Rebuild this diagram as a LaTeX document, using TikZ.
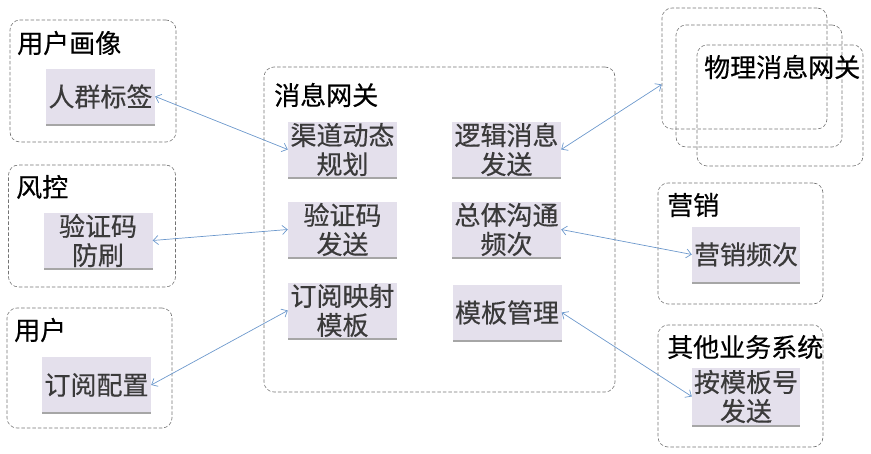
\documentclass[tikz,border=0pt]{standalone}
\usepackage{fontspec}
\newfontfamily\cjk[FakeBold=0.4]{Noto Sans CJK SC}
\usetikzlibrary{arrows.meta,shadows}
\definecolor{lav}{RGB}{228,224,236}
\definecolor{txtgray}{RGB}{58,58,58}
\definecolor{linkblue}{RGB}{108,152,204}
\definecolor{dashgray}{RGB}{115,115,115}
\begin{document}
\begin{tikzpicture}[x=1pt,y=-1pt,
  outerbox/.style={draw=dashgray, line width=0.6pt, dash pattern=on 3.5pt off 2pt, rounded corners=10pt, inner sep=0pt},
  innerbox/.style={fill=lav, text=txtgray, inner xsep=1pt, inner ysep=0pt, align=center,
    minimum width=109pt, minimum height=55pt,
    font=\cjk\fontsize{26}{29}\selectfont,
    drop shadow={shadow xshift=0pt, shadow yshift=-1.6pt, fill=black, opacity=0.35}},
  titletext/.style={anchor=west, inner sep=0pt, text=black, font=\cjk\fontsize{26}{29}\selectfont},
  link/.style={draw=linkblue, line width=0.7pt, {Straight Barb[length=5pt,width=9pt]}-{Straight Barb[length=5pt,width=9pt]}}
]
\useasboundingbox (0,0) rectangle (871,454);

% left groups
\node[outerbox, minimum width=166pt, minimum height=122pt] (gA) at (93,81) {};
\node[titletext] (tA) at (17,43) {用户画像};
\node[innerbox] (renqun) at (100.5,96.5) {人群标签};

\node[outerbox, minimum width=167pt, minimum height=122pt] (gB) at (92,226) {};
\node[titletext] (tB) at (16,187) {风控};
\node[innerbox] (fangshua) at (98,240.5) {验证码\\防刷};

\node[outerbox, minimum width=165pt, minimum height=120pt] (gC) at (89.5,368) {};
\node[titletext] (tC) at (14,330) {用户};
\node[innerbox] (dingyue) at (96.5,385) {订阅配置};

% main gateway
\node[outerbox, minimum width=351pt, minimum height=325pt] (gM) at (439.5,229.5) {};
\node[titletext] (tM) at (274,95) {消息网关};
\node[innerbox] (qudao) at (342.5,149.5) {渠道动态\\规划};
\node[innerbox] (luoji) at (506.5,149.5) {逻辑消息\\发送};
\node[innerbox] (yzmsend) at (342.5,229.5) {验证码\\发送};
\node[innerbox] (zongti) at (506.5,229.5) {总体沟通\\频次};
\node[innerbox] (yingshe) at (342.5,310.5) {订阅映射\\模板};
\node[innerbox] (muban) at (507,312.5) {模板管理};

% physical gateways
\node[outerbox, minimum width=165pt, minimum height=121pt] (p1) at (744.5,68.5) {};
\node[outerbox, minimum width=166pt, minimum height=122pt] (p2) at (759,86) {};
\node[outerbox, minimum width=166pt, minimum height=121pt] (p3) at (780,105.5) {};
\node[titletext] (tP) at (704,67) {物理消息网关};

% right groups
\node[outerbox, minimum width=165pt, minimum height=121pt] (gD) at (740.5,243.5) {};
\node[titletext] (tD) at (667,205) {营销};
\node[innerbox, minimum width=108pt] (yingxiao) at (746,254.5) {营销频次};

\node[outerbox, minimum width=165pt, minimum height=122pt] (gE) at (740.5,386) {};
\node[titletext] (tE) at (667,347) {其他业务系统};
\node[innerbox, minimum width=108pt, minimum height=57pt] (anmuban) at (746,396.5) {按模板号\\发送};

% links
\draw[link] (renqun.east) -- (qudao.west);
\draw[link] (fangshua.east) -- (yzmsend.west);
\draw[link] (dingyue.east) -- (yingshe.west);
\draw[link] (luoji.east) -- ([yshift=-16pt]p1.west);
\draw[link] (zongti.east) -- (yingxiao.west);
\draw[link] (muban.east) -- (anmuban.west);
\end{tikzpicture}
\end{document}
